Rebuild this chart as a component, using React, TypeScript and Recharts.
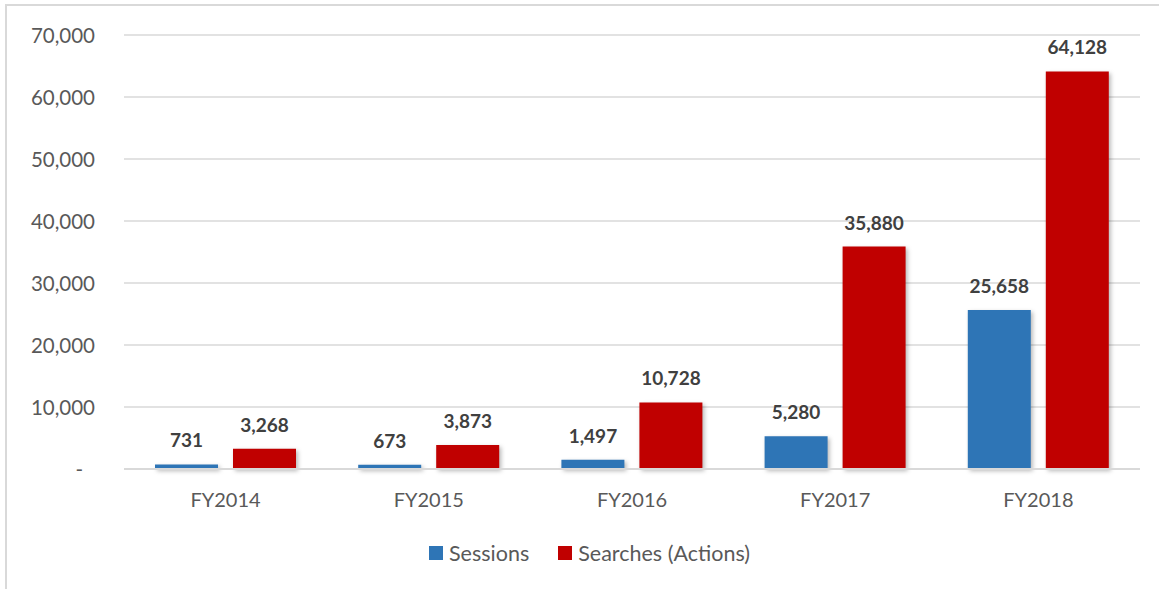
import { Bar, BarChart, CartesianGrid, LabelList, XAxis, YAxis } from "recharts";

const years = ["FY2014", "FY2015", "FY2016", "FY2017", "FY2018"];
const sessions = [731, 673, 1497, 5280, 25658];
const searches = [3268, 3873, 10728, 35880, 64128];
const yTicks = [0, 10000, 20000, 30000, 40000, 50000, 60000, 70000];

const BLUE = "#2E75B6";
const RED = "#C00000";
const FONT = "Lato, 'Open Sans', sans-serif";

const data = years.map((year, i) => ({
  year,
  sessions: sessions[i],
  searches: searches[i],
}));

const fmt = (v: number) => v.toLocaleString("en-US");

// Excel accounting style: zero shows as a dash sitting left of the right edge
function YTick(props: any) {
  const { x, y, payload } = props;
  const zero = payload.value === 0;
  return (
    <text
      x={zero ? x - 12 : x}
      y={y}
      textAnchor="end"
      dominantBaseline="central"
      fontSize={20.5}
      fontFamily={FONT}
      fill="#595959"
    >
      {zero ? "-" : fmt(payload.value)}
    </text>
  );
}

function LegendBox() {
  const items = [
    { label: "Sessions", color: BLUE },
    { label: "Searches (Actions)", color: RED },
  ];
  return (
    <div style={{ display: "flex", alignItems: "center", fontFamily: FONT, fontSize: 21.5, color: "#595959" }}>
      {items.map((it, i) => (
        <div key={it.label} style={{ display: "flex", alignItems: "center", marginLeft: i ? 29 : 0 }}>
          <span style={{ width: 14, height: 14, background: it.color, display: "inline-block", marginRight: 6 }} />
          <span>{it.label}</span>
        </div>
      ))}
    </div>
  );
}

export default function App() {
  return (
    <div style={{ position: "absolute", left: 0, top: 0, width: 1159, height: 589, background: "#fff", overflow: "hidden" }}>
      <style>{`.recharts-bar-rectangle path { filter: drop-shadow(2px 2px 2px rgba(0,0,0,0.28)); }`}</style>
      <div
        style={{
          position: "absolute",
          left: 5,
          top: 4,
          width: 1160,
          height: 600,
          borderLeft: "2px solid #d9d9d9",
          borderTop: "2px solid #d9d9d9",
        }}
      />
      <div style={{ position: "absolute", left: 0, top: 0 }}>
        <BarChart
          width={1159}
          height={589}
          data={data}
          margin={{ top: 35, right: 19, bottom: 60, left: 0 }}
          barCategoryGap={31}
          barGap={15}
        >
          <CartesianGrid vertical={false} stroke="#d9d9d9" strokeWidth={1.5} />
          <XAxis
            dataKey="year"
            height={60}
            tickLine={false}
            axisLine={{ stroke: "#d9d9d9", strokeWidth: 2 }}
            tickMargin={18}
            tick={{ fontSize: 20, fontFamily: FONT, fill: "#595959" }}
          />
          <YAxis
            width={124}
            domain={[0, 70000]}
            ticks={yTicks}
            tickLine={false}
            axisLine={false}
            tickMargin={23}
            tick={<YTick />}
          />
          <Bar dataKey="sessions" name="Sessions" fill={BLUE} isAnimationActive={false}>
            <LabelList
              dataKey="sessions"
              position="top"
              offset={17}
              formatter={(v: any) => fmt(Number(v))}
              style={{ fontSize: 19, fontWeight: 700, fontFamily: FONT, fill: "#404040" }}
            />
          </Bar>
          <Bar dataKey="searches" name="Searches (Actions)" fill={RED} isAnimationActive={false}>
            <LabelList
              dataKey="searches"
              position="top"
              offset={17}
              formatter={(v: any) => fmt(Number(v))}
              style={{ fontSize: 19, fontWeight: 700, fontFamily: FONT, fill: "#404040" }}
            />
          </Bar>
        </BarChart>
      </div>
      <div style={{ position: "absolute", left: 429, top: 540 }}>
        <LegendBox />
      </div>
    </div>
  );
}
